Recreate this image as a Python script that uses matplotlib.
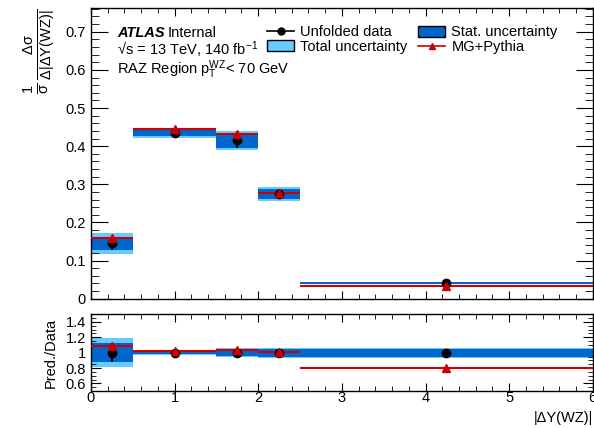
import matplotlib
matplotlib.use("Agg")
import matplotlib.pyplot as plt
from matplotlib.patches import Patch
from matplotlib.lines import Line2D
from matplotlib.ticker import MultipleLocator, FuncFormatter
import numpy as np

plt.rcParams['font.family'] = ['Liberation Sans', 'DejaVu Sans']
plt.rcParams['mathtext.fontset'] = 'custom'
plt.rcParams['mathtext.rm'] = 'Liberation Sans'
plt.rcParams['mathtext.it'] = 'Liberation Sans'
plt.rcParams['mathtext.sf'] = 'Liberation Sans'

# |dY(WZ)| binning
bin_edges = [0.0, 0.5, 1.5, 2.0, 2.5, 6.0]
bin_centers = [0.25, 1.0, 1.75, 2.25, 4.25]

# normalised cross section
data_xs = [0.145, 0.435, 0.415, 0.275, 0.041]
mc_xs = [0.158, 0.446, 0.432, 0.276, 0.033]
# relative uncertainties on the unfolded data
rel_total = [0.19, 0.032, 0.058, 0.065, 0.065]
rel_stat = [0.12, 0.022, 0.045, 0.05, 0.05]

C_TOT = '#66ccff'
C_STAT = '#0066cc'
C_MC = '#cc0000'

edges = np.array(bin_edges)
lo, widths = edges[:-1], np.diff(edges)
data = np.array(data_xs)
mc = np.array(mc_xs)
tot = np.array(rel_total)
stat = np.array(rel_stat)

fig = plt.figure(figsize=(5.94, 4.28), dpi=100)
ax = fig.add_axes([0.153, 0.302, 0.845, 0.68])
rx = fig.add_axes([0.153, 0.086, 0.845, 0.180])


def draw(a, y, mcy, scale):
    a.bar(lo, 2 * tot * scale, bottom=y - tot * scale, width=widths,
          align='edge', color=C_TOT, lw=0, zorder=1)
    a.bar(lo, 2 * stat * scale, bottom=y - stat * scale, width=widths,
          align='edge', color=C_STAT, lw=0, zorder=2)
    a.hlines(mcy, lo, edges[1:], color=C_MC, lw=1.5, zorder=3)
    a.errorbar(bin_centers, y, yerr=stat * scale, fmt='o', color='black',
               ms=6, lw=1.5, capsize=0, zorder=4)
    a.plot(bin_centers, mcy, '^', color=C_MC, ms=6, zorder=5)


draw(ax, data, mc, data)
draw(rx, np.ones_like(data), mc / data, np.ones_like(data))

for a in (ax, rx):
    a.set_xlim(0, 6)
    a.xaxis.set_major_locator(MultipleLocator(1))
    a.xaxis.set_minor_locator(MultipleLocator(0.2))
    a.tick_params(which='both', direction='in', top=True, right=True,
                  labelsize=10.5, colors='black')
    a.tick_params(axis='x', which='major', length=6, pad=0)
    a.tick_params(axis='x', which='minor', length=3.5)
    for s in a.spines.values():
        s.set_linewidth(1.0)

fmt = FuncFormatter(lambda v, p: f'{v:g}')

ax.set_ylim(0, 0.763)
ax.yaxis.set_major_locator(MultipleLocator(0.1))
ax.yaxis.set_minor_locator(MultipleLocator(0.02))
ax.yaxis.set_major_formatter(fmt)
ax.tick_params(axis='y', which='major', length=12)
ax.tick_params(axis='y', which='minor', length=6)
ax.tick_params(axis='x', labelbottom=False)
ax.set_ylabel(r'$\frac{1}{\sigma}\,\frac{\Delta\sigma}{\Delta|\Delta \mathrm{Y(WZ)}|}$',
              fontsize=15, loc='top', labelpad=6)

rx.set_ylim(0.5, 1.5)
rx.yaxis.set_major_locator(MultipleLocator(0.2))
rx.yaxis.set_minor_locator(MultipleLocator(0.05))
rx.yaxis.set_major_formatter(fmt)
rx.tick_params(axis='y', which='major', length=7)
rx.tick_params(axis='y', which='minor', length=3.5)
rx.set_yticks([0.6, 0.8, 1.0, 1.2, 1.4])
rx.set_ylabel('Pred./Data', fontsize=10.5, labelpad=6)
rx.set_xlabel('|ΔY(WZ)|', fontsize=10.5, loc='right', labelpad=4)

# labels
fig.text(0.197, 0.914, 'ATLAS', fontsize=10.5, fontweight='bold',
         style='italic', va='baseline')
fig.text(0.283, 0.914, 'Internal', fontsize=10.5, va='baseline')
fig.text(0.197, 0.870, '√s = 13 TeV, 140 fb$^{-1}$', fontsize=10.5,
         va='baseline')
fig.text(0.197, 0.826, r'RAZ Region p$_{\mathrm{T}}^{\mathrm{WZ}}$< 70 GeV',
         fontsize=10.5, va='baseline')

handles = [
    Line2D([], [], color='black', marker='o', ms=5, lw=1.2),
    Patch(facecolor=C_TOT, edgecolor='black', lw=1),
    Patch(facecolor=C_STAT, edgecolor='black', lw=1),
    Line2D([], [], color=C_MC, marker='^', ms=5, lw=1.2),
]
labels = ['Unfolded data', 'Total uncertainty', 'Stat. uncertainty', 'MG+Pythia']
ax.legend(handles, labels, ncol=2, loc='upper left',
          bbox_to_anchor=(0.33, 0.975), frameon=False, fontsize=10.5,
          handlelength=1.9, handleheight=0.8, columnspacing=0.7,
          labelspacing=0.05, handletextpad=0.4, borderpad=0.2)

fig.savefig('out.png', dpi=100)
